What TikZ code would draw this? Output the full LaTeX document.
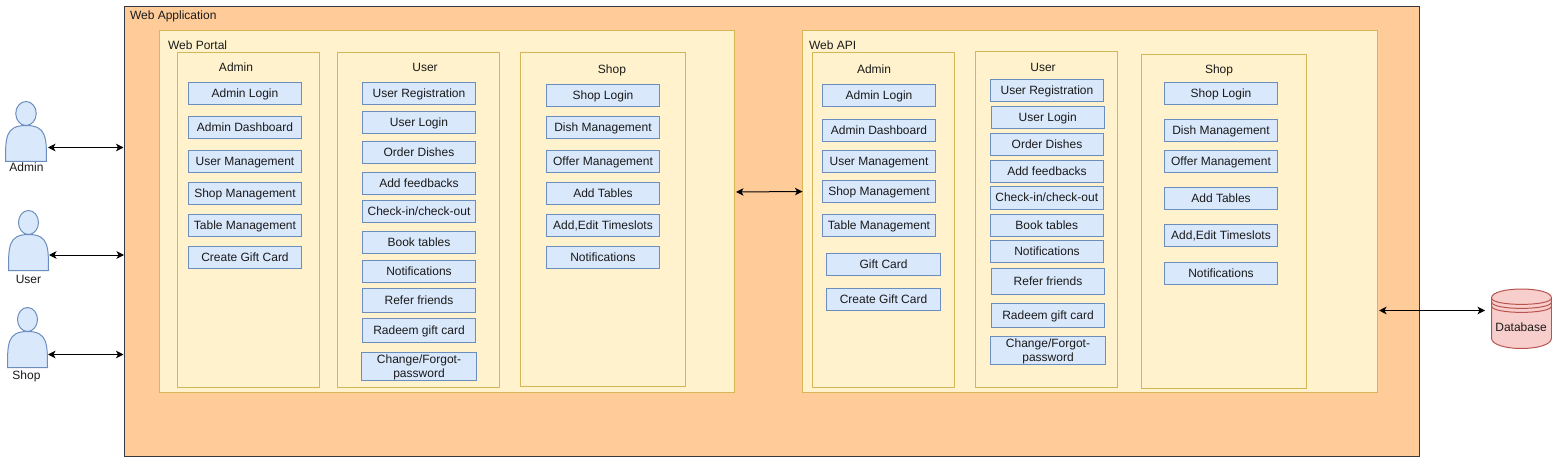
\documentclass[tikz,border=0pt]{standalone}
\usepackage{fontspec}
\setmainfont{Liberation Sans}
\usetikzlibrary{arrows.meta}
\definecolor{inkc}{HTML}{1A1A1A}
\definecolor{orangef}{HTML}{FFCC99}
\definecolor{oranged}{HTML}{36393D}
\definecolor{yellowf}{HTML}{FFF2CC}
\definecolor{yellowd}{HTML}{D6B656}
\definecolor{bluef}{HTML}{DAE8FC}
\definecolor{blued}{HTML}{6C8EBF}
\definecolor{redf}{HTML}{F8CECC}
\definecolor{redd}{HTML}{B85450}
\tikzset{
  every node/.style={font=\fontsize{12}{14}\selectfont, text=inkc, inner sep=0pt, outer sep=0pt},
  appbox/.style={draw=oranged, fill=orangef, line width=1pt, anchor=north west},
  panelbox/.style={draw=yellowd, fill=yellowf, line width=1pt, anchor=north west},
  itembox/.style={draw=blued, fill=bluef, line width=1pt, anchor=center, align=center},
  oneline/.style={text height=8pt, text depth=0pt},
  titlew/.style={anchor=base west},
  titlec/.style={anchor=base},
  actorshape/.style={draw=blued, fill=bluef, line width=1pt},
  dbshape/.style={draw=redd, fill=redf, line width=1pt},
  link/.style={draw=black, line width=1pt, {Stealth[length=7.5pt,width=7.5pt,inset=2pt]}-{Stealth[length=7.5pt,width=7.5pt,inset=2pt]}}
}
% name, x1, y1, x2, y2, text
\newcommand{\itm}[6]{%
  \pgfmathsetmacro{\bxw}{#4-#2}\pgfmathsetmacro{\bxh}{#5-#3}%
  \node[itembox, oneline, minimum width=\bxw pt, minimum height=\bxh pt] (#1) at ({(#2+#4)/2},{(#3+#5)/2}) {#6};}
% two-line item: the rule pushes the pair of lines down a little
\newcommand{\itmtwo}[7]{%
  \pgfmathsetmacro{\bxw}{#4-#2}\pgfmathsetmacro{\bxh}{#5-#3}%
  \node[itembox, minimum width=\bxw pt, minimum height=\bxh pt] (#1) at ({(#2+#4)/2},{(#3+#5)/2}) {\rule{0pt}{10.6pt}#6\\#7};}
% style, name, x1, y1, x2, y2
\newcommand{\pnl}[6]{%
  \pgfmathsetmacro{\bxw}{#5-#3}\pgfmathsetmacro{\bxh}{#6-#4}%
  \node[#1, minimum width=\bxw pt, minimum height=\bxh pt] (#2) at (#3,#4) {};}
% name, x, y, w, h, label, labelx, labely
\newcommand{\actr}[8]{%
  \pgfmathsetmacro{\xa}{#2}\pgfmathsetmacro{\xc}{#2+#4/2}\pgfmathsetmacro{\xd}{#2+#4}%
  \pgfmathsetmacro{\ya}{#3+2*#5/5}\pgfmathsetmacro{\yb}{#3+3*#5/5}\pgfmathsetmacro{\yc}{#3+#5}\pgfmathsetmacro{\ye}{#3+#5/5}%
  \pgfmathsetmacro{\rx}{#4/4}\pgfmathsetmacro{\ry}{#5/5}%
  \path[actorshape] (\xa,\yc) .. controls (\xa,\yb) and (\xa,\ya) .. (\xc,\ya) .. controls (\xd,\ya) and (\xd,\yb) .. (\xd,\yc) -- cycle;
  \path[actorshape] (\xc,\ye) ellipse [x radius=\rx pt, y radius=\ry pt];
  \node[titlec] (#1) at (#7,#8) {#6};}
\begin{document}
\begin{tikzpicture}[x=1pt,y=-1pt]
\useasboundingbox (0,0) rectangle (1552,457);
\fill[white] (0,0) rectangle (1552,457);
% containers
\pnl{appbox}{app}{124.5}{6.5}{1419.5}{456.5}
\pnl{panelbox}{portal}{159.5}{30.5}{734.5}{392.5}
\pnl{panelbox}{api}{802.5}{30.5}{1377.5}{392.5}
\pnl{panelbox}{pA}{177.5}{52.5}{319.5}{387.5}
\pnl{panelbox}{pU}{337.5}{52.5}{499.5}{387.5}
\pnl{panelbox}{pS}{520.5}{52.5}{685.5}{386.5}
\pnl{panelbox}{aA}{812.5}{52.5}{954.5}{387.5}
\pnl{panelbox}{aU}{975.5}{51.5}{1117.5}{387.5}
\pnl{panelbox}{aS}{1141.5}{54.5}{1306.5}{388.5}
% titles
\node[titlew] (tApp) at (130,19.7) {Web Application};
\node[titlew] (tPortal) at (168,49.7) {Web Portal};
\node[titlew] (tApi) at (809,49.7) {Web API};
\node[titlec] (tpA) at (236,71.7) {Admin};
\node[titlec] (tpU) at (425,71.7) {User};
\node[titlec] (tpS) at (612,73.7) {Shop};
\node[titlec] (taA) at (874,73.7) {Admin};
\node[titlec] (taU) at (1043,71.7) {User};
\node[titlec] (taS) at (1219,73.7) {Shop};
% portal admin
\itm{pa1}{188.5}{82.5}{301.5}{104.5}{Admin Login}
\itm{pa2}{188.5}{116.5}{301.5}{138.5}{Admin Dashboard}
\itm{pa3}{188.5}{150.5}{301.5}{172.5}{User Management}
\itm{pa4}{188.5}{182.5}{301.5}{204.5}{Shop Management}
\itm{pa5}{188.5}{214.5}{301.5}{236.5}{Table Management}
\itm{pa6}{188.5}{246.5}{301.5}{268.5}{Create Gift Card}
% portal user
\itm{pu1}{362.5}{82.5}{475.5}{104.5}{User Registration}
\itm{pu2}{362.5}{111.5}{475.5}{133.5}{User Login}
\itm{pu3}{362.5}{141.5}{475.5}{163.5}{Order Dishes}
\itm{pu4}{362.5}{172.5}{475.5}{194.5}{Add feedbacks}
\itm{pu5}{362.5}{200.5}{475.5}{222.5}{Check-in/check-out}
\itm{pu6}{362.5}{231.5}{475.5}{253.5}{Book tables}
\itm{pu7}{362.5}{260.5}{475.5}{282.5}{Notifications}
\itm{pu8}{362.5}{288.5}{475.5}{312.5}{Refer friends}
\itm{pu9}{362.5}{318.5}{475.5}{342.5}{Radeem gift card}
\itmtwo{pu10}{361.5}{352.5}{476.5}{380.5}{Change/Forgot-}{password}
% portal shop
\itm{ps1}{546.5}{84.5}{659.5}{106.5}{Shop Login}
\itm{ps2}{546.5}{116.5}{659.5}{138.5}{Dish Management}
\itm{ps3}{546.5}{150.5}{659.5}{172.5}{Offer Management}
\itm{ps4}{546.5}{182.5}{659.5}{204.5}{Add Tables}
\itm{ps5}{546.5}{214.5}{659.5}{236.5}{Add,Edit Timeslots}
\itm{ps6}{546.5}{246.5}{659.5}{268.5}{Notifications}
% api admin
\itm{aa1}{822.5}{84.5}{935.5}{106.5}{Admin Login}
\itm{aa2}{822.5}{119.5}{935.5}{141.5}{Admin Dashboard}
\itm{aa3}{822.5}{150.5}{935.5}{172.5}{User Management}
\itm{aa4}{822.5}{180.5}{935.5}{202.5}{Shop Management}
\itm{aa5}{822.5}{214.5}{935.5}{236.5}{Table Management}
\itm{aa6}{826.5}{253.5}{940.5}{275.5}{Gift Card}
\itm{aa7}{826.5}{288.5}{940.5}{310.5}{Create Gift Card}
% api user
\itm{au1}{990.5}{79.5}{1103.5}{101.5}{User Registration}
\itm{au2}{991}{106.5}{1104.5}{128.5}{User Login}
\itm{au3}{990.5}{133.5}{1103.5}{155.5}{Order Dishes}
\itm{au4}{990.5}{160.5}{1103.5}{182.5}{Add feedbacks}
\itm{au5}{990}{186.5}{1103.5}{209.5}{Check-in/check-out}
\itm{au6}{990}{214.5}{1103.5}{236.5}{Book tables}
\itm{au7}{990.5}{240.5}{1103.5}{262.5}{Notifications}
\itm{au8}{991.5}{268.5}{1104.5}{294.5}{Refer friends}
\itm{au9}{991.5}{303.5}{1104.5}{327.5}{Radeem gift card}
\itmtwo{au10}{990.5}{336.5}{1105.5}{364.5}{Change/Forgot-}{password}
% api shop
\itm{as1}{1164.5}{82.5}{1277.5}{104.5}{Shop Login}
\itm{as2}{1164.5}{119.5}{1277.5}{141.5}{Dish Management}
\itm{as3}{1164.5}{150.5}{1277.5}{172.5}{Offer Management}
\itm{as4}{1164.5}{187.5}{1277.5}{209.5}{Add Tables}
\itm{as5}{1164.5}{224.5}{1277.5}{246.5}{Add,Edit Timeslots}
\itm{as6}{1164.5}{262.5}{1277.5}{284.5}{Notifications}
% actors
\actr{adminL}{5.5}{101.5}{41}{60}{Admin}{26.5}{171.5}
\actr{userL}{8.5}{210.5}{40}{60}{User}{28.5}{283.5}
\actr{shopL}{7.5}{307.5}{40}{60}{Shop}{26.5}{379.5}
% database
\path[dbshape] (1491.5,298) .. controls (1491.5,286) and (1551.5,286) .. (1551.5,298) -- (1551.5,338) .. controls (1551.5,352) and (1491.5,352) .. (1491.5,338) -- cycle;
\draw[redd, line width=1pt] (1491.5,298) .. controls (1491.5,306.5) and (1551.5,306.5) .. (1551.5,298);
\draw[redd, line width=1pt] (1491.5,302) .. controls (1491.5,310.5) and (1551.5,310.5) .. (1551.5,302);
\draw[redd, line width=1pt] (1491.5,306) .. controls (1491.5,314.5) and (1551.5,314.5) .. (1551.5,306);
\node (db) at (1521,327) {Database};
% connector ends
\coordinate (c1a) at (48,147.5);  \coordinate (c1b) at (123.5,147.5);
\coordinate (c2a) at (49,255);    \coordinate (c2b) at (124,255);
\coordinate (c3a) at (48,354.5);  \coordinate (c3b) at (123.5,354.5);
\coordinate (c4a) at (736,192);   \coordinate (c4b) at (802.5,191.5);
\coordinate (c5a) at (1379,310.5);\coordinate (c5b) at (1485,310.5);
\draw[link] (c1a) -- (c1b);
\draw[link] (c2a) -- (c2b);
\draw[link] (c3a) -- (c3b);
\draw[link] (c4a) -- (c4b);
\draw[link] (c5a) -- (c5b);
\end{tikzpicture}
\end{document}
